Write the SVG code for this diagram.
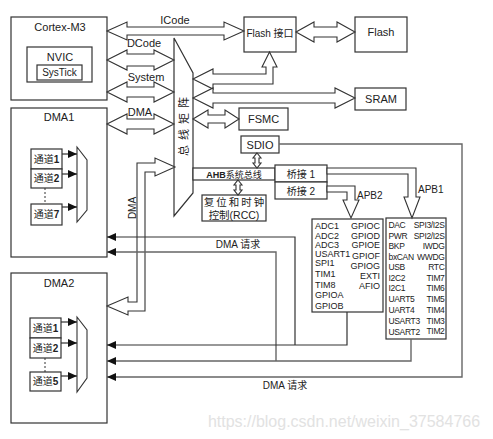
<svg xmlns="http://www.w3.org/2000/svg" width="493" height="439" viewBox="0 0 493 439">
<style>
.box{fill:#fff;stroke:#333;stroke-width:1.2}
.arr{fill:#fff;stroke:#333;stroke-width:1.1;stroke-linejoin:miter}
.ln{fill:none;stroke:#333;stroke-width:1.2}
.ln2{fill:none;stroke:#666;stroke-width:1.4}
.t{font-family:"Liberation Sans","Noto Sans CJK SC",sans-serif;font-size:11px;fill:#222}
.s{font-size:9px}
.s2{font-size:8.5px;letter-spacing:-0.35px}
.m{text-anchor:middle}
.e{text-anchor:end}
.wm{font-family:"Liberation Sans",sans-serif;font-size:16px;fill:#e2e2e2;text-anchor:middle}
</style>
<defs>
<marker id="ah" markerUnits="userSpaceOnUse" markerWidth="9" markerHeight="8" refX="9" refY="4" orient="auto">
<path d="M0,0 L9,4 L0,8 z" fill="#111"/>
</marker>
</defs>
<rect width="493" height="439" fill="#fff"/>

<g id="cortex">
<rect class="box" x="11" y="17" width="96" height="83"/>
<text class="t m" x="60" y="31">Cortex-M3</text>
<rect class="box" x="27" y="47" width="65" height="35"/>
<text class="t m" x="60" y="61">NVIC</text>
<rect class="box" x="37" y="65" width="45" height="15"/>
<text class="t m" x="59.5" y="76" style="font-size:10px">SysTick</text>
</g>

<g id="dma1">
<rect class="box" x="11" y="108" width="96" height="149"/>
<text class="t m" x="59" y="121">DMA1</text>
<rect class="box" x="31" y="149" width="31" height="20"/>
<text class="t m" x="46.5" y="163" style="font-size:10px">通道<tspan font-weight="bold">1</tspan></text>
<rect class="box" x="31" y="169" width="31" height="19"/>
<text class="t m" x="46.5" y="182" style="font-size:10px">通道<tspan font-weight="bold">2</tspan></text>
<rect class="box" x="31" y="204" width="31" height="21"/>
<text class="t m" x="46.5" y="218" style="font-size:10px">通道<tspan font-weight="bold">7</tspan></text>
<line x1="45" y1="188" x2="45" y2="204" stroke="#333" stroke-dasharray="2,2"/>
<polygon class="arr" points="77,147 87,160 87,210 77,222"/>
<line class="ln" x1="62" y1="154" x2="77" y2="154" marker-end="url(#ah)"/>
<line class="ln" x1="62" y1="174" x2="77" y2="174" marker-end="url(#ah)"/>
<line class="ln" x1="62" y1="207" x2="77" y2="207" marker-end="url(#ah)"/>
</g>

<g id="dma2">
<rect class="box" x="11" y="273" width="96" height="150"/>
<text class="t m" x="59" y="287">DMA2</text>
<rect class="box" x="30" y="318" width="31" height="20"/>
<text class="t m" x="45.5" y="332" style="font-size:10px">通道<tspan font-weight="bold">1</tspan></text>
<rect class="box" x="30" y="338" width="31" height="20"/>
<text class="t m" x="45.5" y="352" style="font-size:10px">通道<tspan font-weight="bold">2</tspan></text>
<rect class="box" x="30" y="372" width="31" height="19"/>
<text class="t m" x="45.5" y="385" style="font-size:10px">通道<tspan font-weight="bold">5</tspan></text>
<line x1="45" y1="358" x2="45" y2="372" stroke="#333" stroke-dasharray="2,2"/>
<polygon class="arr" points="77,317 87,330 87,378 77,392"/>
<line class="ln" x1="61" y1="322" x2="77" y2="322" marker-end="url(#ah)"/>
<line class="ln" x1="61" y1="343" x2="77" y2="343" marker-end="url(#ah)"/>
<line class="ln" x1="61" y1="376" x2="77" y2="376" marker-end="url(#ah)"/>
</g>

<g id="matrix">
<polygon class="box" points="174,38 193,73 193,193 174,216"/>
<text class="t m" transform="translate(188,124) rotate(-90)" style="letter-spacing:5px">总线矩阵</text>
</g>

<g id="flashif">
<rect class="box" x="244" y="17" width="52" height="35"/>
<text class="t m" x="270" y="37" style="font-size:10px">Flash 接口</text>
</g>
<g id="flash">
<rect class="box" x="355" y="17" width="52" height="35"/>
<text class="t m" x="381" y="36">Flash</text>
</g>
<g id="sram">
<rect class="box" x="355" y="88" width="51" height="22"/>
<text class="t m" x="381" y="103">SRAM</text>
</g>
<g id="fsmc">
<rect class="box" x="239" y="108" width="49" height="22"/>
<text class="t m" x="263.5" y="123">FSMC</text>
</g>
<g id="sdio">
<rect class="box" x="241" y="136" width="38" height="17"/>
<text class="t m" x="260" y="148.5">SDIO</text>
</g>
<g id="ahb">
<rect class="box" x="193" y="168" width="82" height="12"/>
<text class="t m" x="234" y="177.5" style="font-size:9px"><tspan font-weight="bold">AHB</tspan>系统总线</text>
</g>
<g id="bridge1">
<rect class="box" x="275" y="165" width="52" height="17"/>
<text class="t m" x="301" y="177.5" style="font-size:10px">桥接 1</text>
</g>
<g id="bridge2">
<rect class="box" x="275" y="182" width="52" height="17"/>
<text class="t m" x="301" y="194.5" style="font-size:10px">桥接 2</text>
</g>
<g id="rcc">
<rect class="box" x="202" y="195" width="64" height="26"/>
<text class="t m" x="235" y="206" style="font-size:10.5px;letter-spacing:2px">复位和时钟</text>
<text class="t m" x="234" y="219" style="font-size:10.5px">控制(RCC)</text>
</g>

<g id="apb2">
<rect class="box" x="312" y="219" width="71" height="93"/>
<g class="t s">
<text x="315" y="229">ADC1</text>
<text x="315" y="238.5">ADC2</text>
<text x="315" y="248">ADC3</text>
<text x="315" y="257">USART1</text>
<text x="315" y="266">SPI1</text>
<text x="315" y="277">TIM1</text>
<text x="315" y="288">TIM8</text>
<text x="315" y="298">GPIOA</text>
<text x="315" y="309">GPIOB</text>
<text class="e" x="380" y="229">GPIOC</text>
<text class="e" x="380" y="238.5">GPIOD</text>
<text class="e" x="380" y="248">GPIOE</text>
<text class="e" x="380" y="258.5">GPIOF</text>
<text class="e" x="380" y="269">GPIOG</text>
<text class="e" x="380" y="279">EXTI</text>
<text class="e" x="380" y="289">AFIO</text>
</g>
</g>

<g id="apb1">
<rect class="box" x="386" y="218" width="60" height="121"/>
<g class="t s2">
<text x="388.5" y="228">DAC</text>
<text x="388.5" y="238.5">PWR</text>
<text x="388.5" y="248.5">BKP</text>
<text x="388.5" y="259.5">bxCAN</text>
<text x="388.5" y="270">USB</text>
<text x="388.5" y="280.5">I2C2</text>
<text x="388.5" y="290.5">I2C1</text>
<text x="388.5" y="301.5">UART5</text>
<text x="388.5" y="312.5">UART4</text>
<text x="388.5" y="323.5">USART3</text>
<text x="388.5" y="334.5">USART2</text>
<text class="e" x="444.5" y="228">SPI3/I2S</text>
<text class="e" x="444.5" y="238.5">SPI2/I2S</text>
<text class="e" x="444.5" y="248.5">IWDG</text>
<text class="e" x="444.5" y="259.5">WWDG</text>
<text class="e" x="444.5" y="270">RTC</text>
<text class="e" x="444.5" y="280.5">TIM7</text>
<text class="e" x="444.5" y="290.5">TIM6</text>
<text class="e" x="444.5" y="301.5">TIM5</text>
<text class="e" x="444.5" y="312.5">TIM4</text>
<text class="e" x="444.5" y="323.5">TIM3</text>
<text class="e" x="444.5" y="333.5">TIM2</text>
</g>
</g>

<g id="connectors">
<polygon class="arr" points="107,31 127,22 127,27 224,27 224,22 244,31 224,40 224,35 127,35 127,40"/>
<text class="t m" x="175" y="24">ICode</text>
<polygon class="arr" points="107,60 127,50 127,54 154,54 154,50 174,60 154,70 154,66 127,66 127,70"/>
<text class="t m" x="144" y="47">DCode</text>
<polygon class="arr" points="107,92 127,82 127,87 154,87 154,82 174,92 154,102 154,97 127,97 127,102"/>
<text class="t m" x="146" y="81">System</text>
<polygon class="arr" points="107,124 127,114 127,119 154,119 154,114 174,124 154,134 154,129 127,129 127,134"/>
<text class="t m" x="140" y="116">DMA</text>

<polygon class="arr" points="296,32 314,22 314,27 337,27 337,22 355,32 337,42 337,37 314,37 314,42"/>
<polygon class="arr" points="193,79 213,69 213,74 266,74 266,67 262,67 269.5,52 277,67 273,67 273,84 213,84 213,89"/>
<polygon class="arr" points="193,98 213,88 213,93 335,93 335,88 355,98 335,108 335,103 213,103 213,108"/>
<polygon class="arr" points="193,119 208,110 208,115 225,115 225,110 239,119 225,128 225,123 208,123 208,128"/>

<polygon class="arr" points="257,153 261,158 259,158 259,163 261,163 257,168 253,163 255,163 255,158 253,158"/>
<polygon class="arr" points="238,180 242,185 240,185 240,190 242,190 238,195 234,190 236,190 236,185 234,185"/>

<polygon class="arr" points="327,168 416,168 416,197 420,197 412,218 404,197 408,197 408,174 327,174"/>
<text class="t" x="418" y="193" style="font-size:10px">APB1</text>
<polygon class="arr" points="327,186 355,186 355,200 359,200 351,218 343,200 347,200 347,192 327,192"/>
<text class="t" x="357" y="199" style="font-size:10px">APB2</text>

<polygon class="arr" points="175,167 155,176 155,172 145,172 145,311 128,311 128,315 107,306 128,297 128,302 137,302 137,163 155,163 155,158"/>
<text class="t m" transform="translate(135.5,208) rotate(-90)" style="font-size:10px">DMA</text>

<polyline class="ln" points="295,345 295,237 107,237" marker-end="url(#ah)"/>
<polyline class="ln2" points="276,361 276,252 107,252" marker-end="url(#ah)"/>
<text class="t m" x="238" y="248" style="font-size:10px">DMA 请求</text>
<polyline class="ln" points="347,312 347,345 107,345" marker-end="url(#ah)"/>
<polyline class="ln2" points="411,339 411,361 107,361" marker-end="url(#ah)"/>
<polyline class="ln2" points="279,144 462,144 462,377 107,377" marker-end="url(#ah)"/>
<text class="t m" x="285" y="389" style="font-size:10px">DMA 请求</text>
</g>

<text class="wm" x="344" y="427">https://blog.csdn.net/weixin_37584766</text>
</svg>
